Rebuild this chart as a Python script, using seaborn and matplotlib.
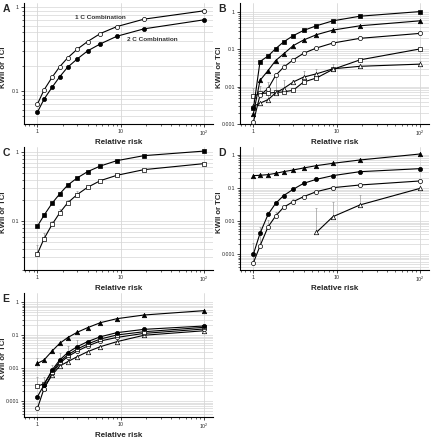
import numpy as np
import pandas as pd
import matplotlib
matplotlib.use("Agg")
import matplotlib.pyplot as plt
from matplotlib.ticker import FixedLocator, FixedFormatter, LogLocator, NullFormatter
import seaborn as sns

# relative risk values (x axis), shared by all panels
rr = [1.0, 1.2, 1.5, 1.85, 2.3, 3.0, 4.0, 5.7, 9.0, 19.0, 100.0]
nan = np.nan

# panel A
a_one_c = [0.070, 0.103, 0.146, 0.195, 0.248, 0.315, 0.389, 0.485, 0.587, 0.719, 0.904]
a_two_c = [0.056, 0.080, 0.111, 0.148, 0.192, 0.241, 0.301, 0.365, 0.450, 0.551, 0.706]

# panel B
b_fsq = [0.0026, 0.047, 0.066, 0.104, 0.157, 0.231, 0.319, 0.425, 0.577, 0.767, 1.02]
b_ftri = [0.0019, 0.0147, 0.027, 0.050, 0.075, 0.125, 0.177, 0.245, 0.326, 0.425, 0.577]
b_ocirc = [0.00115, 0.0059, 0.0089, 0.020, 0.033, 0.052, 0.078, 0.108, 0.147, 0.196, 0.266]
b_osq = [0.0055, 0.0066, 0.0067, 0.0070, 0.0072, 0.0080, 0.0133, 0.0170, 0.029, 0.052, 0.102]
b_otri = [0.0030, 0.0036, 0.0045, 0.0068, 0.0089, 0.0133, 0.0180, 0.0220, 0.030, 0.035, 0.040]
b_osq_up = [0.0094, 0.0105, nan, nan, nan, nan, nan, nan, nan, nan, nan]
b_otri_up = [nan, nan, 0.0133, 0.023, 0.0147, 0.0147, 0.026, 0.030, 0.041, nan, 0.050]
b_ocirc_up = [nan, nan, nan, nan, 0.041, nan, nan, nan, nan, nan, nan]

# panel C
c_fsq = [0.085, 0.122, 0.182, 0.248, 0.331, 0.422, 0.520, 0.628, 0.750, 0.885, 1.03]
c_osq = [0.034, 0.056, 0.090, 0.132, 0.184, 0.243, 0.309, 0.386, 0.461, 0.556, 0.679]
c_osq_up = [0.045, 0.068, 0.100, 0.150, 0.205, 0.270, nan, nan, nan, nan, nan]

# panel D
d_ftri = [0.238, 0.243, 0.255, 0.279, 0.313, 0.352, 0.405, 0.476, 0.560, 0.706, 1.07]
d_fcirc = [0.00102, 0.0043, 0.0161, 0.0347, 0.059, 0.092, 0.139, 0.184, 0.238, 0.313, 0.386]
d_ocirc = [0.00056, 0.0018, 0.0068, 0.0144, 0.0262, 0.039, 0.055, 0.078, 0.103, 0.124, 0.164]
d_otri = [nan, nan, nan, nan, nan, nan, nan, 0.0046, 0.0137, 0.031, 0.098]
d_ocirc_up = [0.00225, 0.0068, 0.011, 0.0193, 0.029, 0.046, nan, nan, nan, nan, nan]
d_otri_up = [nan, nan, nan, nan, nan, nan, nan, 0.0245, 0.037, 0.062, nan]

# panel E
e_ftri = [0.0140, 0.0177, 0.0332, 0.0567, 0.0844, 0.123, 0.170, 0.241, 0.319, 0.412, 0.558]
e_fcirc = [0.00136, 0.0031, 0.0088, 0.0177, 0.0295, 0.045, 0.064, 0.090, 0.120, 0.151, 0.191]
e_osq = [0.0028, 0.0034, 0.0078, 0.0157, 0.025, 0.038, 0.054, 0.077, 0.102, 0.128, 0.174]
e_ocirc = [0.0006, 0.0024, 0.0069, 0.014, 0.0223, 0.033, 0.047, 0.067, 0.086, 0.114, 0.155]
e_otri = [nan, 0.0025, 0.0062, 0.0116, 0.0157, 0.0223, 0.0317, 0.045, 0.064, 0.100, 0.137]
e_osq_up = [0.0053, 0.0053, 0.0125, 0.028, 0.047, 0.070, nan, nan, nan, nan, nan]
e_ftri_up = [0.020, nan, nan, nan, nan, nan, nan, nan, nan, nan, nan]

x_ticks = [1, 10, 100]
x_labels = ["1", "10", "10$^2$"]

sns.set_style("white")
plt.rcParams['font.family'] = ['Liberation Sans', 'DejaVu Sans']
plt.rcParams['mathtext.fontset'] = 'custom'
plt.rcParams['mathtext.rm'] = 'Liberation Sans'

fig = plt.figure(figsize=(4.32, 4.38), dpi=100)


def make_axes(rect, ylim, yticks, ylabels, letter):
    ax = fig.add_axes(rect)
    ax.patch.set_alpha(0)
    ax.set_xscale("log")
    ax.set_yscale("log")
    ax.set_xlim(0.69, 128)
    ax.set_ylim(*ylim)
    for side in ("top", "right"):
        ax.spines[side].set_visible(False)
    for side in ("left", "bottom"):
        ax.spines[side].set_color("black")
        ax.spines[side].set_linewidth(0.8)
    ax.yaxis.set_major_locator(FixedLocator(yticks))
    ax.yaxis.set_major_formatter(FixedFormatter(ylabels))
    ax.yaxis.set_minor_locator(LogLocator(base=10, subs=np.arange(2, 10)))
    ax.yaxis.set_minor_formatter(NullFormatter())
    ax.xaxis.set_major_locator(FixedLocator(x_ticks))
    ax.xaxis.set_major_formatter(FixedFormatter(x_labels))
    ax.xaxis.set_minor_locator(LogLocator(base=10, subs=np.arange(2, 10)))
    ax.xaxis.set_minor_formatter(NullFormatter())
    ax.tick_params(which="major", direction="out", length=2.4, width=0.6,
                   labelsize=3.8, pad=1.2, left=True, bottom=True)
    ax.tick_params(which="minor", direction="out", length=1.5, width=0.5,
                   left=True, bottom=True)
    ax.grid(True, which="major", axis="x", color="#cfcfcf", lw=0.5)
    ax.grid(True, which="both", axis="y", color="#d6d6d6", lw=0.5)
    ax.set_axisbelow(True)
    fig.text(rect[0] - 0.05, rect[1] + rect[3] - 0.003, letter,
             fontsize=7.5, fontweight="bold", va="top", ha="left")
    return ax


def finish(ax):
    ax.set_xlabel("Relative risk", fontsize=5.8, fontweight="bold", labelpad=0.8)
    ax.set_ylabel("KWII or TCI", fontsize=5.6, fontweight="bold")
    ax.yaxis.set_label_coords(-0.088, 0.47)


def series(ax, y, marker, filled, up=None):
    df = pd.DataFrame({"rr": rr, "val": y}).dropna()
    sns.lineplot(data=df, x="rr", y="val", ax=ax, estimator=None, sort=True,
                 color="black", lw=0.8, marker=marker, markersize=3 if marker != "^" else 3.2,
                 markerfacecolor="black" if filled else "white",
                 markeredgecolor="black", markeredgewidth=0.5, zorder=3)
    if up is not None:
        eb = pd.DataFrame({"rr": rr, "val": y, "up": up}).dropna()
        ax.errorbar(eb["rr"], eb["val"], yerr=[np.zeros(len(eb)), eb["up"] - eb["val"]],
                    fmt="none", ecolor="#9a9a9a", elinewidth=0.5, capsize=1, capthick=0.5,
                    zorder=2)


W, H = 432, 438
col1, col2, aw = 24 / W, 240 / W, 189 / W
row1 = (1 - 124 / H, 121 / H)
row2 = (1 - 270 / H, 123 / H)
row3 = (1 - 416.7 / H, 123.7 / H)

# A
ax = make_axes([col1, row1[0], aw, row1[1]], (0.0405, 1.12), [0.1, 1], ["0.1", "1"], "A")
series(ax, a_one_c, "o", False)
series(ax, a_two_c, "o", True)
ax.text(5.66, 0.76, "1 C Combination", fontsize=4.6, fontweight="bold", color="#333333",
        ha="center", va="center")
ax.text(23.8, 0.416, "2 C Combination", fontsize=4.6, fontweight="bold", color="#333333",
        ha="center", va="center")
finish(ax)

# B
ax = make_axes([col2, row1[0], aw, row1[1]], (0.001, 1.73), [0.001, 0.01, 0.1, 1],
               ["0.001", "0.01", "0.1", "1"], "B")
series(ax, b_osq, "s", False, b_osq_up)
series(ax, b_otri, "^", False, b_otri_up)
series(ax, b_ocirc, "o", False, b_ocirc_up)
series(ax, b_ftri, "^", True)
series(ax, b_fsq, "s", True)
finish(ax)

# C
ax = make_axes([col1, row2[0], aw, row2[1]], (0.0198, 1.18), [0.1, 1], ["0.1", "1"], "C")
series(ax, c_osq, "s", False, c_osq_up)
series(ax, c_fsq, "s", True)
finish(ax)

# D
ax = make_axes([col2, row2[0], aw, row2[1]], (0.000336, 1.74), [0.001, 0.01, 0.1, 1],
               ["0.001", "0.01", "0.1", "1"], "D")
series(ax, d_otri, "^", False, d_otri_up)
series(ax, d_ocirc, "o", False, d_ocirc_up)
series(ax, d_fcirc, "o", True)
series(ax, d_ftri, "^", True)
finish(ax)

# E
ax = make_axes([col1, row3[0], aw, row3[1]], (0.000336, 1.92), [0.001, 0.01, 0.1, 1],
               ["0.001", "0.01", "0.1", "1"], "E")
series(ax, e_otri, "^", False)
series(ax, e_ocirc, "o", False)
series(ax, e_osq, "s", False, e_osq_up)
series(ax, e_fcirc, "o", True)
series(ax, e_ftri, "^", True, e_ftri_up)
finish(ax)

fig.savefig("out.png", dpi=100)
